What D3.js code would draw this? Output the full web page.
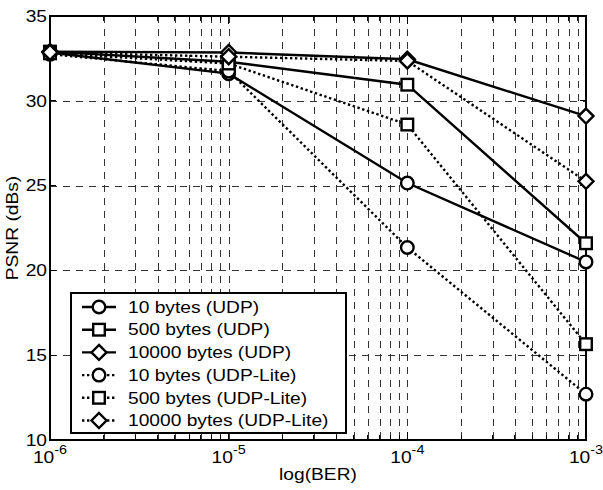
<!DOCTYPE html>
<html>
<head>
<meta charset="utf-8">
<script src="https://cdn.jsdelivr.net/npm/d3@7"></script>
<style>
  body { margin: 0; background: #fff; }
  text { font-family: "Liberation Sans", Arial, sans-serif; fill: #000; }
</style>
</head>
<body>
<svg width="603" height="490"></svg>
<script>
// BER values on the x axis
var ber = [1e-6, 1e-5, 1e-4, 1e-3];
var yTicks = [10, 15, 20, 25, 30, 35];
var xExps = [-6, -5, -4, -3];

// PSNR values per series
var udp10 = [32.85, 31.6, 25.15, 20.5];
var udp500 = [32.9, 32.3, 30.95, 21.6];
var udp10000 = [32.9, 32.85, 32.45, 29.1];
var lite10 = [32.75, 31.75, 21.35, 12.7];
var lite500 = [32.8, 32.2, 28.6, 15.65];
var lite10000 = [32.85, 32.6, 32.35, 25.25];

var seriesNames = ["10 bytes (UDP)", "500 bytes (UDP)", "10000 bytes (UDP)",
  "10 bytes (UDP-Lite)", "500 bytes (UDP-Lite)", "10000 bytes (UDP-Lite)"];

var series = [
  { name: seriesNames[0], values: udp10, marker: "circle", dotted: false },
  { name: seriesNames[1], values: udp500, marker: "square", dotted: false },
  { name: seriesNames[2], values: udp10000, marker: "diamond", dotted: false },
  { name: seriesNames[3], values: lite10, marker: "circle", dotted: true },
  { name: seriesNames[4], values: lite500, marker: "square", dotted: true },
  { name: seriesNames[5], values: lite10000, marker: "diamond", dotted: true }
];

var svg = d3.select("svg");
var pLeft = 50, pRight = 586, pTop = 16, pBottom = 440;
var stretch = 1.2; // text in the reference is a bit wider than Arial

var x = d3.scaleLog().domain([1e-6, 1e-3]).range([pLeft, pRight]);
var y = d3.scaleLinear().domain([10, 35]).range([pBottom, pTop]);

// text helper: position then stretch horizontally
function label(parent, tx, ty, rot) {
  return parent.append("text")
    .attr("transform", "translate(" + tx + "," + ty + ")" + (rot ? " rotate(" + rot + ")" : "") +
      " scale(" + stretch + ",1)")
    .style("font-size", "16px");
}

// grid lines (minor + major on x, major on y)
var minor = [];
for (var e = -6; e < -3; e++) {
  for (var k = 1; k < 10; k++) minor.push(k * Math.pow(10, e));
}
minor.push(1e-3);

var grid = svg.append("g");
grid.selectAll("line.vx")
  .data(minor.filter(function(d) { return d > 1e-6 * 1.01 && d < 1e-3 * 0.99; }))
  .enter().append("line")
  .attr("x1", function(d) { return Math.round(x(d)) + 0.5; })
  .attr("x2", function(d) { return Math.round(x(d)) + 0.5; })
  .attr("y1", pTop).attr("y2", pBottom)
  .attr("stroke", "#333").attr("stroke-width", 1)
  .attr("stroke-dasharray", "7,6");

grid.selectAll("line.hy")
  .data(yTicks.filter(function(d) { return d > 10 && d < 35; }))
  .enter().append("line")
  .attr("x1", pLeft).attr("x2", pRight)
  .attr("y1", function(d) { return Math.round(y(d)) + 0.5; })
  .attr("y2", function(d) { return Math.round(y(d)) + 0.5; })
  .attr("stroke", "#333").attr("stroke-width", 1)
  .attr("stroke-dasharray", "7,6");

// ticks inside the frame
var ticks = svg.append("g").attr("stroke", "#000").attr("shape-rendering", "crispEdges");
minor.forEach(function(d) {
  var len = (Math.abs(Math.log10(d) - Math.round(Math.log10(d))) < 1e-9) ? 8 : 5;
  ticks.append("line").attr("x1", x(d)).attr("x2", x(d)).attr("y1", pBottom).attr("y2", pBottom - len);
  ticks.append("line").attr("x1", x(d)).attr("x2", x(d)).attr("y1", pTop).attr("y2", pTop + len);
});
yTicks.forEach(function(d) {
  ticks.append("line").attr("x1", pLeft).attr("x2", pLeft + 6).attr("y1", y(d)).attr("y2", y(d));
  ticks.append("line").attr("x1", pRight).attr("x2", pRight - 6).attr("y1", y(d)).attr("y2", y(d));
});

// frame
svg.append("rect")
  .attr("x", pLeft).attr("y", pTop)
  .attr("width", pRight - pLeft).attr("height", pBottom - pTop)
  .attr("fill", "none").attr("stroke", "#000").attr("stroke-width", 1.3)
  .attr("shape-rendering", "crispEdges");

// tick labels
var axisG = svg.append("g");
yTicks.forEach(function(d) {
  label(axisG, pLeft - 3, y(d), 0)
    .attr("dy", "0.36em")
    .attr("text-anchor", "end")
    .text(d);
});

xExps.forEach(function(d) {
  var t = label(axisG, x(Math.pow(10, d)), 463, 0)
    .attr("text-anchor", "middle");
  t.append("tspan").text("10");
  t.append("tspan").attr("dy", -9).style("font-size", "12px").text(d);
});

label(svg, (pLeft + pRight) / 2, 480, 0)
  .attr("text-anchor", "middle")
  .text("log(BER)");

svg.append("text")
  .attr("transform", "translate(18," + ((pTop + pBottom) / 2) + ") rotate(-90) scale(" + stretch + ",1)")
  .attr("text-anchor", "middle")
  .style("font-size", "16px")
  .text("PSNR (dBs)");

// markers
function drawMarker(g, type, cx, cy) {
  if (type === "circle") {
    g.append("circle").attr("cx", cx).attr("cy", cy).attr("r", 6.3);
  } else if (type === "square") {
    g.append("rect").attr("x", cx - 5.8).attr("y", cy - 5.8).attr("width", 11.6).attr("height", 11.6);
  } else {
    g.append("path").attr("d", "M" + cx + "," + (cy - 7.5) + "L" + (cx + 7.5) + "," + cy +
      "L" + cx + "," + (cy + 7.5) + "L" + (cx - 7.5) + "," + cy + "Z");
  }
}

var line = d3.line()
  .x(function(d, i) { return x(ber[i]); })
  .y(function(d) { return y(d); });

series.forEach(function(s) {
  svg.append("path")
    .datum(s.values)
    .attr("d", line)
    .attr("fill", "none")
    .attr("stroke", "#000")
    .attr("stroke-width", 2.4)
    .attr("stroke-dasharray", s.dotted ? "2.4,2.6" : null);
});
series.forEach(function(s) {
  var g = svg.append("g").attr("fill", "#fff").attr("stroke", "#000").attr("stroke-width", 2.4);
  s.values.forEach(function(v, i) { drawMarker(g, s.marker, x(ber[i]), y(v)); });
});

// legend
var lg = svg.append("g");
lg.append("rect")
  .attr("x", 71).attr("y", 293).attr("width", 275).attr("height", 140)
  .attr("fill", "#fff").attr("stroke", "#000").attr("stroke-width", 1.3)
  .attr("shape-rendering", "crispEdges");
series.forEach(function(s, i) {
  var cy = 307 + i * 22.7;
  lg.append("line")
    .attr("x1", 82).attr("x2", 116).attr("y1", cy).attr("y2", cy)
    .attr("stroke", "#000").attr("stroke-width", 2.4)
    .attr("stroke-dasharray", s.dotted ? "2.4,2.6" : null);
  var g = lg.append("g").attr("fill", "#fff").attr("stroke", "#000").attr("stroke-width", 2.4);
  drawMarker(g, s.marker, 99, cy);
  label(lg, 128, cy, 0)
    .attr("dy", "0.36em")
    .text(s.name);
});
</script>
</body>
</html>
